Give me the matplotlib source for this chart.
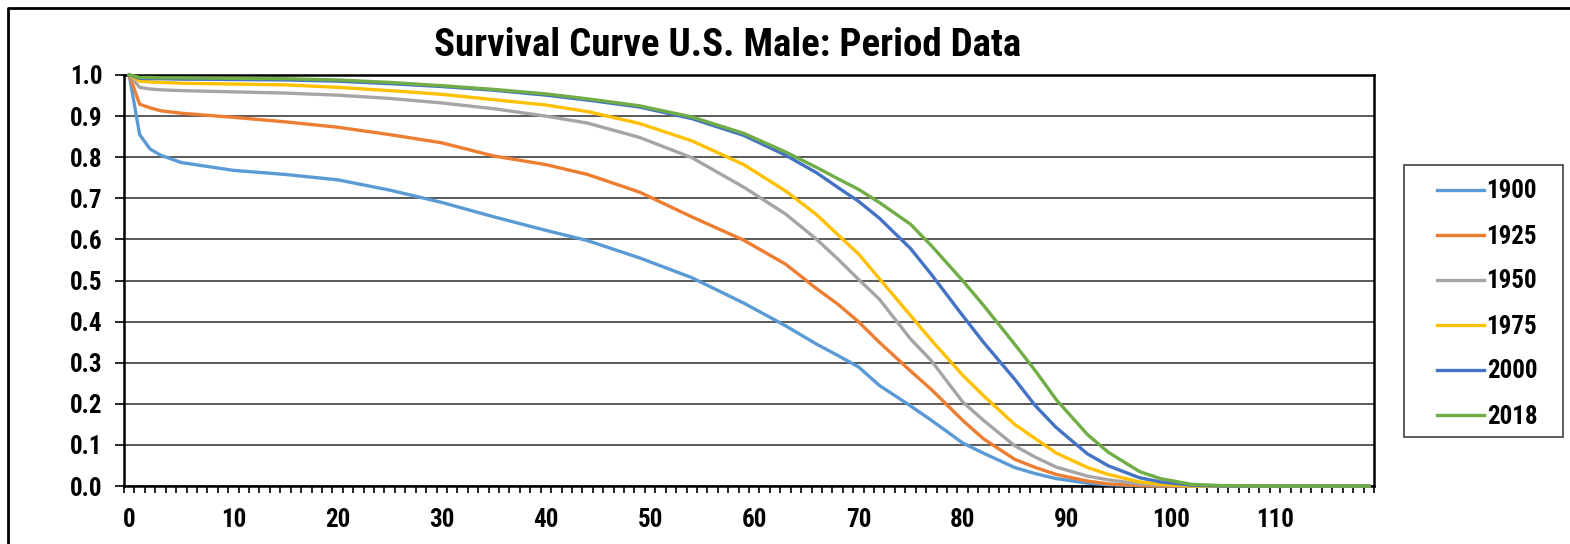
import matplotlib
matplotlib.use("Agg")
import matplotlib.pyplot as plt
from matplotlib import font_manager
from matplotlib.lines import Line2D
from matplotlib.patches import Rectangle

ages = [0, 1, 2, 3, 5, 10, 15, 20, 25, 30, 35, 40, 44, 49, 54, 59, 63, 66, 68, 70,
        72, 75, 77, 80, 82, 85, 87, 89, 92, 94, 97, 99, 102, 105, 110, 119]

s1900 = [1.0, 0.855, 0.82, 0.805, 0.787, 0.768, 0.758, 0.745, 0.72, 0.69, 0.655, 0.622, 0.597, 0.555,
         0.507, 0.445, 0.39, 0.345, 0.318, 0.29, 0.245, 0.195, 0.16, 0.105, 0.08, 0.045, 0.03, 0.018,
         0.007, 0.003, 0.001, 0.0, 0.0, 0.0, 0.0, 0.0]
s1925 = [1.0, 0.929, 0.92, 0.913, 0.907, 0.897, 0.886, 0.873, 0.855, 0.835, 0.803, 0.782, 0.758, 0.715,
         0.655, 0.598, 0.54, 0.48, 0.443, 0.40, 0.35, 0.28, 0.235, 0.16, 0.115, 0.065, 0.045, 0.028,
         0.012, 0.005, 0.001, 0.0, 0.0, 0.0, 0.0, 0.0]
s1950 = [1.0, 0.97, 0.966, 0.964, 0.962, 0.959, 0.956, 0.951, 0.943, 0.932, 0.918, 0.90, 0.883, 0.848,
         0.799, 0.727, 0.662, 0.60, 0.553, 0.503, 0.455, 0.358, 0.305, 0.205, 0.16, 0.098, 0.07, 0.046,
         0.024, 0.015, 0.005, 0.002, 0.0, 0.0, 0.0, 0.0]
s1975 = [1.0, 0.985, 0.983, 0.982, 0.98, 0.978, 0.976, 0.97, 0.962, 0.953, 0.94, 0.927, 0.911, 0.882,
         0.84, 0.782, 0.718, 0.66, 0.612, 0.565, 0.505, 0.415, 0.355, 0.27, 0.22, 0.15, 0.115, 0.08,
         0.045, 0.028, 0.01, 0.004, 0.0, 0.0, 0.0, 0.0]
s2000 = [1.0, 0.992, 0.991, 0.991, 0.99, 0.989, 0.988, 0.985, 0.979, 0.972, 0.963, 0.951, 0.939, 0.922,
         0.894, 0.853, 0.805, 0.762, 0.727, 0.693, 0.652, 0.578, 0.515, 0.415, 0.35, 0.26, 0.195, 0.142,
         0.078, 0.049, 0.02, 0.01, 0.002, 0.0, 0.0, 0.0]
s2018 = [1.0, 0.994, 0.994, 0.993, 0.993, 0.992, 0.991, 0.988, 0.982, 0.974, 0.965, 0.954, 0.942, 0.925,
         0.898, 0.858, 0.813, 0.775, 0.748, 0.722, 0.69, 0.637, 0.585, 0.50, 0.44, 0.345, 0.28, 0.21,
         0.125, 0.082, 0.035, 0.018, 0.004, 0.001, 0.0, 0.0]

labels = ["1900", "1925", "1950", "1975", "2000", "2018"]
colors = ["#5B9BD5", "#ED7D31", "#A5A5A5", "#FFC000", "#4472C4", "#70AD47"]
series = [s1900, s1925, s1950, s1975, s2000, s2018]

# narrow sans like the original; fall back to Liberation Sans
names = {f.name for f in font_manager.fontManager.ttflist}
font = next((n for n in ["Roboto Condensed", "PT Sans Narrow", "Liberation Sans Narrow"]
             if n in names), "Liberation Sans")
plt.rcParams["font.family"] = [font, "DejaVu Sans"]
plt.rcParams["font.weight"] = "bold"

W, H = 1570, 544
fig = plt.figure(figsize=(W / 100, H / 100), dpi=100)
ax = fig.add_axes([124 / W, 1 - 486 / H, 1250 / W, 411 / H])

for vals, lab, col in zip(series, labels, colors):
    ax.plot(ages, vals, color=col, lw=2.4, label=lab, zorder=3, clip_on=False)

ax.set_xlim(-0.5, 119.5)
ax.set_ylim(0, 1.0)
ax.set_yticks([i / 10 for i in range(11)])
ax.set_yticklabels([f"{i / 10:.1f}" for i in range(11)])
ax.set_xticks(range(0, 120, 10))
ax.set_xticks([k - 0.5 for k in range(121)], minor=True)
ax.tick_params(axis="x", which="major", length=0, pad=16, labelsize=18)
ax.tick_params(axis="x", which="minor", length=5, width=1.2, direction="out")
ax.tick_params(axis="y", length=6.5, width=1.2, pad=9, labelsize=18)
ax.yaxis.grid(True, color="#4d4d4d", lw=1.3)
ax.set_axisbelow(True)
for sp in ax.spines.values():
    sp.set_linewidth(1.8)
    sp.set_color("black")

fig.text(728 / W, 1 - 45 / H, "Survival Curve U.S. Male: Period Data",
         ha="center", va="center", fontsize=28, fontweight="bold")

# legend box
fig.add_artist(Rectangle((1404 / W, 1 - 437 / H), 159 / W, 272 / H,
                         transform=fig.transFigure, fill=False, ec="#404040", lw=1.2))
fig.legend(loc="center", bbox_to_anchor=(1487 / W, 1 - 304 / H), frameon=False,
           fontsize=18, handlelength=1.88, handletextpad=0.12, labelspacing=0.84)

# outer chart frame
fig.add_artist(Line2D([8 / W, 8 / W, 1.01], [-0.01, 1 - 8 / H, 1 - 8 / H],
                      transform=fig.transFigure, color="black", lw=2))

fig.savefig("out.png", dpi=100, facecolor="white")
